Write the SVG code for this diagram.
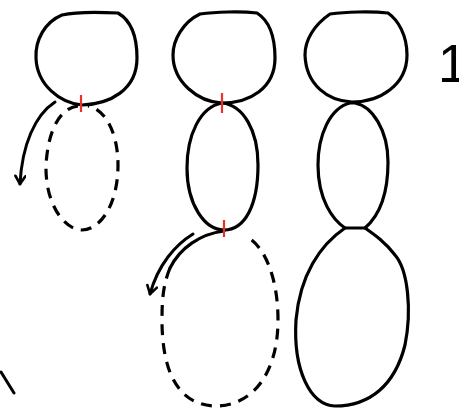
<svg xmlns="http://www.w3.org/2000/svg" width="459" height="410" viewBox="0 0 459 410">
<style>
.o{fill:none;stroke:#000;stroke-width:3.2;stroke-linejoin:round;stroke-linecap:round}
.d{fill:none;stroke:#000;stroke-width:3.2;stroke-dasharray:11 8;stroke-linecap:butt}
.r{stroke:#e8322c;stroke-width:2.2}
.a{fill:none;stroke:#000;stroke-width:3;stroke-linecap:round}
</style>
<defs>
<marker id="ah" viewBox="0 0 12 12" refX="10" refY="6" markerWidth="12" markerHeight="12" markerUnits="userSpaceOnUse" orient="auto">
<path d="M2,1 L10,6 L2,11" fill="none" stroke="#000" stroke-width="2.6" stroke-linecap="round" stroke-linejoin="round"/>
</marker>
</defs>
<rect width="459" height="410" fill="#fff"/>
<g id="fig1-top"><path class="o" d="M82,105 C110,104 137,90 137,58 C137,35 130,20 118,13 C100,12 75,12 62,15 C45,22 35,40 36,58 C37,85 60,103 82,105 Z"/></g>
<g id="fig1-ghost"><path class="d" d="M78,106 C60,108 48,130 46,165 C45,205 65,230 82,230 C100,230 118,205 118,165 C118,130 103,108 88,106"/></g>
<g id="fig2-top"><path class="o" d="M222,103 C250,103 275,88 275,58 C275,35 268,20 257,13 C240,11 215,12 200,14 C183,22 173,40 173,55 C173,82 198,102 222,103 Z"/></g>
<g id="fig2-mid"><path class="o" d="M222,103 C200,107 187,135 187,168 C187,205 205,230 224,230 C245,230 258,205 258,165 C258,130 243,105 222,103 Z"/></g>
<g id="fig2-ghost"><path class="o" d="M224,231 C200,234 180,248 170,268"/><path class="d" d="M170,268 C163,285 162,300 162,320 C162,375 180,405 215,406 C255,406 278,370 278,320 C278,275 263,245 247,237"/></g>
<g id="fig3-top"><path class="o" d="M352,102 C380,102 407,85 407,55 C407,35 398,20 388,13 C370,11 345,12 330,14 C314,25 305,40 305,55 C306,85 328,101 352,102 Z"/></g>
<g id="fig3-mid"><path class="o" d="M350,103 C330,108 318,135 318,165 C318,200 333,220 345,228 L365,228 C380,215 388,195 388,162 C388,130 372,106 355,103 Z"/></g>
<g id="fig3-bottom"><path class="o" d="M345,228 C320,245 300,275 296,320 C293,370 310,405 335,406 C370,406 395,385 405,345 C412,310 408,270 395,255 C385,242 375,235 365,228"/></g>
<g id="ticks">
<line class="r" x1="81" y1="95" x2="81" y2="112"/>
<line class="r" x1="222" y1="93" x2="222" y2="113"/>
<line class="r" x1="224" y1="220" x2="224" y2="237"/>
</g>
<g id="connectors">
<path class="a" d="M55,102 C35,115 22,145 20,184" marker-end="url(#ah)"/>
<path class="a" d="M193,234 C175,245 158,265 150,294" marker-end="url(#ah)"/>
</g>
<g id="label"><text x="438" y="82" font-family="Liberation Sans, Arial, sans-serif" font-size="53" letter-spacing="-9" fill="#000">1</text></g>
<line class="a" x1="1" y1="372" x2="14" y2="393"/>
</svg>
